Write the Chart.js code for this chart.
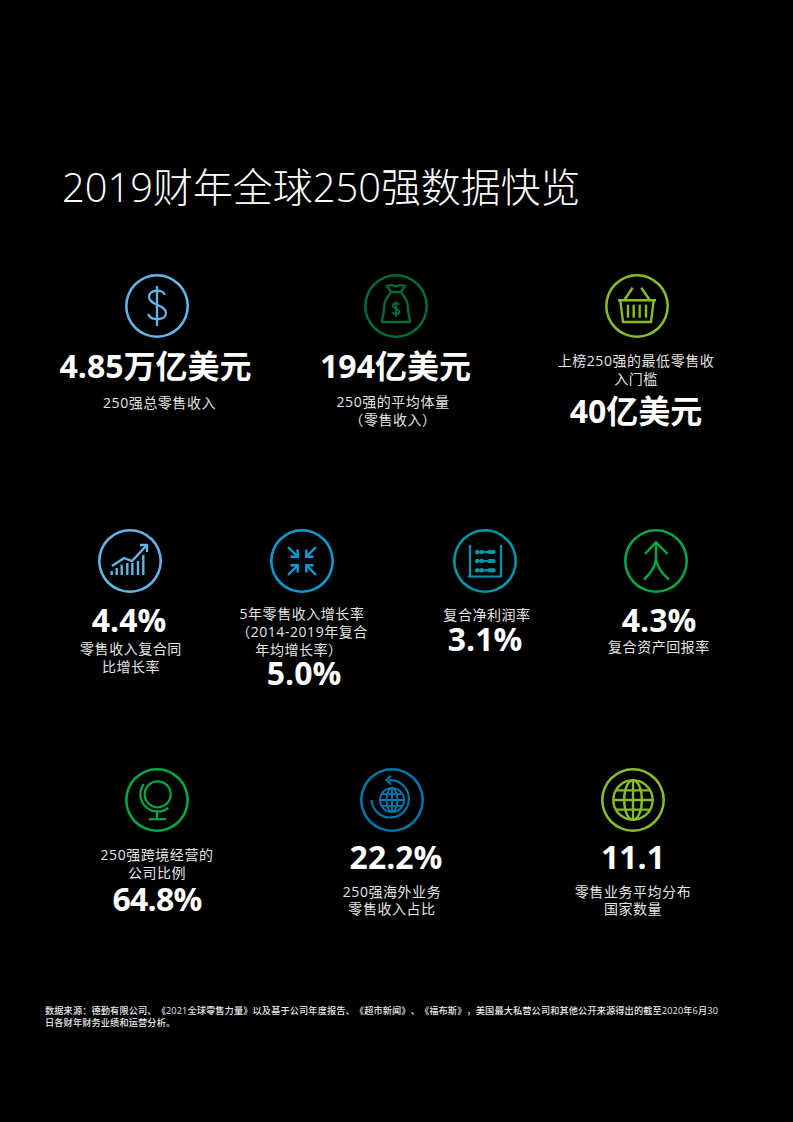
<!DOCTYPE html>
<html lang="zh">
<head>
<meta charset="utf-8">
<title>2019财年全球250强数据快览</title>
<script src="https://cdn.jsdelivr.net/npm/chart.js@4/dist/chart.umd.min.js"></script>
<style>
  html, body { margin: 0; padding: 0; background: #000; }
  #page { position: relative; width: 793px; height: 1122px; overflow: hidden; background: #000; font-family: "Open Sans", "Noto Sans CJK SC", sans-serif; text-spacing-trim: space-all; }
  #page canvas { position: absolute; }
  .txt { position: absolute; white-space: nowrap; transform: translate(-50%, -50%); }
  .value { color: #fff; font-weight: 700; font-size: 32px; line-height: 0.72; }
  .caption { color: #e4e4e4; font-weight: 400; font-size: 14px; letter-spacing: 0.55px; line-height: 0.9; }
  #title { position: absolute; left: 62px; top: 163px; color: #fff; font-weight: 300; font-size: 39.9px; line-height: 48px; white-space: nowrap; }
  .foot { position: absolute; left: 45px; color: #e8e8e8; font-size: 9.2px; font-weight: 500; line-height: 1; white-space: nowrap; letter-spacing: 0.115px; }
</style>
</head>
<body>
<div id="page"></div>
<script>
  const titleText = "2019财年全球250强数据快览";
  const footLines = [
    "数据来源：德勤有限公司、《2021全球零售力量》以及基于公司年度报告、《超市新闻》、《福布斯》，美国最大私营公司和其他公开来源得出的截至2020年6月30",
    "日各财年财务业绩和运营分析。",
  ];

  const kpiValues = ["4.85万亿美元", "194亿美元", "40亿美元", "4.4%", "5.0%", "3.1%", "4.3%", "64.8%", "22.2%", "11.1"];
  const kpiCaptions = [
    ["250强总零售收入"],
    ["250强的平均体量", "（零售收入）"],
    ["上榜250强的最低零售收", "入门槛"],
    ["零售收入复合同", "比增长率"],
    ["5年零售收入增长率", "（2014-2019年复合", "年均增长率）"],
    ["复合净利润率"],
    ["复合资产回报率"],
    ["250强跨境经营的", "公司比例"],
    ["250强海外业务", "零售收入占比"],
    ["零售业务平均分布", "国家数量"],
  ];
  const ringColors = ["#62b5e5", "#046a38", "#86bc25", "#62b5e5", "#0a9bd6", "#0097a9", "#00a846", "#00a846", "#0076a8", "#86bc25"];
  const ringShare = [1, 1, 1, 1, 1, 1, 1, 1, 1, 1];

  // page layout, kept apart from the data: [centre x, centre y]
  const ringPos = [[157, 306], [396, 306], [637, 306], [129.5, 561], [302, 561], [485, 561], [656, 561], [157, 800], [392, 800], [633, 800]];
  const valuePos = [[155.5, 366], [395.5, 366], [636, 411], [129, 620], [304, 673], [485, 639], [659, 620], [157, 899], [396, 857], [633, 857]];
  const valueTracking = [0, 0, 0, 0, 0, 0, 0, -0.8, 0, 0];
  const captionPos = [
    [[159.5, 403]],
    [[393, 402], [393, 420]],
    [[636, 361], [636, 379]],
    [[131, 649], [131, 667]],
    [[302, 614], [302, 632], [299, 650]],
    [[487, 615]],
    [[659, 647]],
    [[157, 855], [157, 873]],
    [[392, 892], [392, 909]],
    [[633, 892], [633, 909]],
  ];

  function line(ctx, pts) {
    ctx.beginPath();
    pts.forEach((p, i) => (i ? ctx.lineTo(p[0], p[1]) : ctx.moveTo(p[0], p[1])));
    ctx.stroke();
  }

  function dollar(ctx, s) {
    ctx.save();
    ctx.scale(s, s);
    ctx.beginPath();
    ctx.moveTo(8, -11);
    ctx.bezierCurveTo(6, -17, -8, -17, -8, -9);
    ctx.bezierCurveTo(-8, -1, 9, -1, 9, 7);
    ctx.bezierCurveTo(9, 15, -6, 15, -9, 8);
    ctx.stroke();
    line(ctx, [[0, -20], [0, 20]]);
    ctx.restore();
  }

  function globe(ctx, r) {
    ctx.beginPath();
    ctx.arc(0, 0, r, 0, Math.PI * 2);
    ctx.stroke();
    ctx.beginPath();
    ctx.ellipse(0, 0, r * 0.45, r, 0, 0, Math.PI * 2);
    ctx.stroke();
    line(ctx, [[-r, 0], [r, 0]]);
    line(ctx, [[0, -r], [0, r]]);
    line(ctx, [[-r * 0.86, -r * 0.49], [r * 0.86, -r * 0.49]]);
    line(ctx, [[-r * 0.86, r * 0.49], [r * 0.86, r * 0.49]]);
  }

  function arrowPair(ctx, sx, sy) {
    // one corner of the compress icon, pointing at the centre
    line(ctx, [[sx * 14, sy * 14], [sx * 5, sy * 5]]);
    line(ctx, [[sx * 4.3, sy * 11.5], [sx * 4.3, sy * 4.3], [sx * 11.5, sy * 4.3]]);
  }

  const iconPainters = [
    (ctx) => { ctx.lineWidth = 2.3; dollar(ctx, 1); },
    (ctx) => {
      // money bag
      ctx.lineWidth = 2.4;
      ctx.beginPath();
      ctx.moveTo(-5, -14);
      ctx.lineTo(-9, -20);
      ctx.quadraticCurveTo(-4, -22, 0, -19.5);
      ctx.quadraticCurveTo(4, -22, 9, -20);
      ctx.lineTo(5, -14);
      ctx.closePath();
      ctx.stroke();
      ctx.beginPath();
      ctx.moveTo(-5, -13);
      ctx.bezierCurveTo(-11, -8, -12, -2, -12, 3);
      ctx.bezierCurveTo(-12, 8, -14, 12, -14, 16);
      ctx.lineTo(14, 16);
      ctx.bezierCurveTo(14, 12, 12, 8, 12, 3);
      ctx.bezierCurveTo(12, -2, 11, -8, 5, -13);
      ctx.stroke();
      ctx.save();
      ctx.translate(0, 3);
      ctx.lineWidth = 5.2;
      dollar(ctx, 0.38);
      ctx.restore();
    },
    (ctx) => {
      // basket
      ctx.lineWidth = 2.4;
      line(ctx, [[-19, -5.7], [19, -5.7]]);
      line(ctx, [[-16.7, -5.7], [-14, 16], [14, 16], [16.7, -5.7]]);
      line(ctx, [[-12.7, -6], [-4.3, -18.3]]);
      line(ctx, [[12.7, -6], [4.3, -18.3]]);
      [-9, -3.3, 2.7, 9].forEach((x) => line(ctx, [[x, -1.3], [x, 11.7]]));
    },
    (ctx) => {
      // rising bars and arrow
      ctx.lineWidth = 2.4;
      [-18.3, -13.3, -8.3, -2.7, 2.3, 8, 13.3].forEach((x, i) => {
        const top = [10, 7, 3.7, 2, 2, 0, -6][i];
        line(ctx, [[x, 14], [x, top]]);
      });
      line(ctx, [[-18, 5], [-6, -3], [2, 0], [17, -16]]);
      line(ctx, [[10, -16], [17, -16], [17, -9]]);
    },
    (ctx) => {
      ctx.lineWidth = 2.4;
      arrowPair(ctx, -1, -1);
      arrowPair(ctx, 1, -1);
      arrowPair(ctx, -1, 1);
      arrowPair(ctx, 1, 1);
    },
    (ctx) => {
      // abacus
      ctx.lineWidth = 2.2;
      line(ctx, [[-15, -16], [-15, 15]]);
      line(ctx, [[16, -16], [16, 15]]);
      line(ctx, [[-17, 15.5], [17, 15.5]]);
      [-9, 0, 9.3].forEach((y) => {
        line(ctx, [[-10, y], [10, y]]);
        [-7.7, -3.3, 5, 8.3].forEach((x) => {
          ctx.beginPath();
          ctx.arc(x, y, 2.3, 0, Math.PI * 2);
          ctx.fill();
        });
      });
    },
    (ctx) => {
      // arrow splitting into two legs
      ctx.lineWidth = 2.4;
      line(ctx, [[-11, -7], [0, -18.7], [11.7, -7]]);
      ctx.beginPath();
      ctx.moveTo(0, -18.7);
      ctx.lineTo(0, -3);
      ctx.quadraticCurveTo(0, 7, -12, 18.7);
      ctx.stroke();
      ctx.beginPath();
      ctx.moveTo(0, -3);
      ctx.quadraticCurveTo(0, 7, 13, 18.7);
      ctx.stroke();
    },
    (ctx) => {
      // desk globe
      ctx.lineWidth = 2.2;
      ctx.beginPath();
      ctx.arc(0.7, -5.7, 13, 0, Math.PI * 2);
      ctx.stroke();
      ctx.beginPath();
      ctx.arc(0.7, -5.7, 17.3, Math.PI * 0.29, Math.PI * 1.2);
      ctx.stroke();
      line(ctx, [[0, 10.5], [0, 19]]);
      line(ctx, [[-8.3, 19.2], [9.3, 19.2]]);
    },
    (ctx) => {
      // small globe inside a return arrow
      ctx.lineWidth = 2.2;
      ctx.beginPath();
      ctx.arc(-1.8, -1.2, 18.7, -Math.PI * 0.52, Math.PI * 0.98);
      ctx.stroke();
      line(ctx, [[-1, -24.3], [-5.5, -20], [-1, -15.5]]);
      ctx.lineWidth = 2;
      globe(ctx, 12);
    },
    (ctx) => { ctx.lineWidth = 2.4; globe(ctx, 19.7); },
  ];

  const iconPlugin = {
    id: "ringIcon",
    afterDraw(chart, args, opts) {
      const arcEl = chart.getDatasetMeta(0).data[0];
      const ctx = chart.ctx;
      ctx.save();
      ctx.translate(arcEl.x, arcEl.y);
      ctx.strokeStyle = opts.color;
      ctx.fillStyle = opts.color;
      iconPainters[opts.index](ctx);
      ctx.restore();
    },
  };

  const page = document.getElementById("page");

  function addText(className, text, x, y) {
    const el = document.createElement("div");
    el.className = "txt " + className;
    el.textContent = text;
    el.style.left = x + "px";
    el.style.top = y + "px";
    page.appendChild(el);
    return el;
  }

  function buildRing(i) {
    const size = 64;
    const canvas = document.createElement("canvas");
    canvas.style.left = ringPos[i][0] - size / 2 + "px";
    canvas.style.top = ringPos[i][1] - size / 2 + "px";
    canvas.style.width = size + "px";
    canvas.style.height = size + "px";
    page.appendChild(canvas);
    new Chart(canvas, {
      type: "doughnut",
      data: {
        labels: [kpiValues[i]],
        datasets: [{ data: [ringShare[i]], backgroundColor: ringColors[i], borderWidth: 0 }],
      },
      options: {
        responsive: false,
        animation: false,
        cutout: "92%",
        events: [],
        plugins: {
          legend: { display: false },
          tooltip: { enabled: false },
          ringIcon: { index: i, color: ringColors[i] },
        },
      },
      plugins: [iconPlugin],
    });
  }

  const titleEl = document.createElement("div");
  titleEl.id = "title";
  titleEl.textContent = titleText;
  page.appendChild(titleEl);

  kpiValues.forEach((value, i) => {
    buildRing(i);
    addText("value", value, valuePos[i][0], valuePos[i][1]).style.letterSpacing = valueTracking[i] + "px";
    kpiCaptions[i].forEach((text, j) => addText("caption", text, captionPos[i][j][0], captionPos[i][j][1]));
  });

  footLines.forEach((text, i) => {
    const el = document.createElement("div");
    el.className = "foot";
    el.textContent = text;
    el.style.top = 1006 + i * 12 + "px";
    page.appendChild(el);
  });
</script>
</body>
</html>
